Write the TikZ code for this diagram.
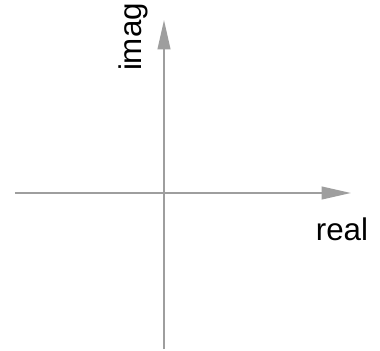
\documentclass[tikz,border=0pt]{standalone}
\usepackage{fontspec}
\setmainfont{Liberation Sans}
\usepackage{tikz}
\usetikzlibrary{arrows.meta}

\begin{document}
\begin{tikzpicture}[x=0.75pt,y=-0.75pt,
    axis/.style={draw=black!38, line width=1.5pt, -{Triangle[length=22pt,width=9.5pt]}},
    lbl/.style={font=\fontsize{23.5}{27}\selectfont, inner sep=0pt}]
  \useasboundingbox (0,0) rectangle (380,351);

  \coordinate (xs) at (15,193);
  \coordinate (xe) at (351,193);
  \coordinate (ys) at (164,349);
  \coordinate (ye) at (164,20);

  \draw[axis] (xs) -- (xe);
  \draw[axis] (ys) -- (ye);

  \node[lbl] (real) at (342,229) {real};
  \node[lbl, rotate=90] (imag) at (133,37) {imag};
\end{tikzpicture}
\end{document}
